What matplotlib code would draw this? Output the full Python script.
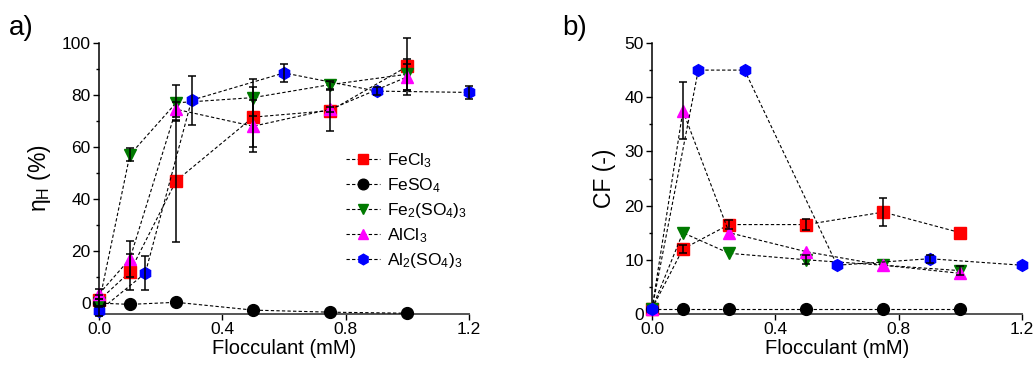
import matplotlib
matplotlib.use("Agg")
import matplotlib.pyplot as plt
import numpy as np

plt.rcParams['font.family'] = ['Liberation Sans', 'DejaVu Sans']
plt.rcParams['mathtext.fontset'] = 'custom'
plt.rcParams['mathtext.rm'] = 'Liberation Sans'
plt.rcParams['mathtext.it'] = 'Liberation Sans'
plt.rcParams['mathtext.default'] = 'regular'

names = ['FeCl$_3$', 'FeSO$_4$', 'Fe$_2$(SO$_4$)$_3$', 'AlCl$_3$', 'Al$_2$(SO$_4$)$_3$']
colors = ['#ff0000', '#000000', '#007a00', '#ff00ff', '#0000ff']
markers = ['s', 'o', 'v', '^', 'h']

# flocculant dose (mM)
x_fe = [0, 0.1, 0.25, 0.5, 0.75, 1.0]
x_al2 = [0, 0.15, 0.3, 0.6, 0.9, 1.2]

# a) harvesting efficiency (%)
h_fecl3 = [1, 12, 47, 71.5, 74, 91]
h_feso4 = [0, -0.5, 0.3, -2.7, -3.5, -3.9]
h_fe2so4 = [0, 57, 77, 79, 84, 88]
h_alcl3 = [3.5, 17, 74.5, 68, 74.5, 87]
h_al2so4 = [-3, 11.5, 78, 88.5, 81.5, 81]

he_fecl3 = [2, 7, 23.5, 11.5, 8, 11]
he_feso4 = [0, 0, 0, 0, 0, 0]
he_fe2so4 = [1.5, 2.5, 7, 7, 1.5, 6]
he_alcl3 = [2, 7, 3, 10, 1, 5]
he_al2so4 = [2, 6.5, 9.5, 3.5, 1.5, 2.5]

# b) concentration factor (-)
c_fecl3 = [1, 12, 16.5, 16.5, 18.8, 15]
c_feso4 = [1, 1, 1, 1, 1, 1]
c_fe2so4 = [1, 15, 11.2, 10, 9, 8]
c_alcl3 = [1, 37.5, 15, 11.5, 9, 7.5]
c_al2so4 = [1, 45, 45, 9, 10.2, 9]

ce_fecl3 = [0, 0.8, 0.9, 1.0, 2.6, 0]
ce_feso4 = [0, 0, 0, 0, 0, 0]
ce_fe2so4 = [0, 0, 0, 0.8, 0, 0.8]
ce_alcl3 = [0, 5.3, 0, 0, 0, 0]
ce_al2so4 = [0, 0, 0, 0, 0.7, 0]

xs = [x_fe, x_fe, x_fe, x_fe, x_al2]
eta = [h_fecl3, h_feso4, h_fe2so4, h_alcl3, h_al2so4]
eta_err = [he_fecl3, he_feso4, he_fe2so4, he_alcl3, he_al2so4]
cf = [c_fecl3, c_feso4, c_fe2so4, c_alcl3, c_al2so4]
cf_err = [ce_fecl3, ce_feso4, ce_fe2so4, ce_alcl3, ce_al2so4]

fig = plt.figure(figsize=(10.35, 3.65), dpi=100)
ax1 = fig.add_axes([0.0957, 0.1397, 0.3575, 0.7425])
ax2 = fig.add_axes([0.630, 0.1397, 0.3575, 0.7425])


def draw(ax, ys, errs):
    for x, y, e, c, m, n in zip(xs, ys, errs, colors, markers, names):
        x = np.array(x)
        y = np.array(y)
        e = np.array(e)
        ax.plot(x, y, ls=(0, (3, 2)), lw=0.8, color='black', marker=m, ms=8.5,
                mfc=c, mec=c, label=n, clip_on=False, zorder=3)
        k = e > 0
        if k.any():
            ax.errorbar(x[k], y[k], yerr=e[k], fmt='none', ecolor='black',
                        elinewidth=1.1, capsize=3, capthick=1.1,
                        clip_on=False, zorder=4)


draw(ax1, eta, eta_err)
draw(ax2, cf, cf_err)

for ax in (ax1, ax2):
    ax.spines['top'].set_visible(False)
    ax.spines['right'].set_visible(False)
    ax.spines['left'].set_linewidth(1.1)
    ax.spines['bottom'].set_linewidth(1.4)
    ax.spines['bottom'].set_color('#555555')
    ax.set_xlim(0, 1.2)
    ax.set_xticks([0, 0.4, 0.8, 1.2])
    ax.set_xticklabels(['0.0', '0.4', '0.8', '1.2'])
    ax.tick_params(axis='both', which='major', length=4, width=1, labelsize=12.5, pad=2)
    ax.tick_params(axis='y', which='minor', length=2.5, width=1)
    ax.set_xlabel('Flocculant (mM)', fontsize=14.5, labelpad=1)

ax1.set_ylim(-4.2, 100)
ax1.set_yticks([0, 20, 40, 60, 80, 100])
ax1.set_yticks([10, 30, 50, 70, 90], minor=True)
ax1.set_ylabel('$\\eta_H$ (%)', fontsize=16.5, labelpad=6)

ax2.set_ylim(0, 50)
ax2.set_yticks([0, 10, 20, 30, 40, 50])
ax2.set_yticks([5, 15, 25, 35, 45], minor=True)
ax2.set_ylabel('CF (-)', fontsize=16.5, labelpad=6)

ax1.legend(loc='upper left', bbox_to_anchor=(0.648, 0.625), frameon=False,
           fontsize=12.5, handlelength=2.0, handletextpad=0.35, labelspacing=0.35,
           borderaxespad=0, markerscale=0.9)

fig.text(0.009, 0.905, 'a)', fontsize=20)
fig.text(0.543, 0.905, 'b)', fontsize=20)

fig.savefig('out.png', dpi=100)
